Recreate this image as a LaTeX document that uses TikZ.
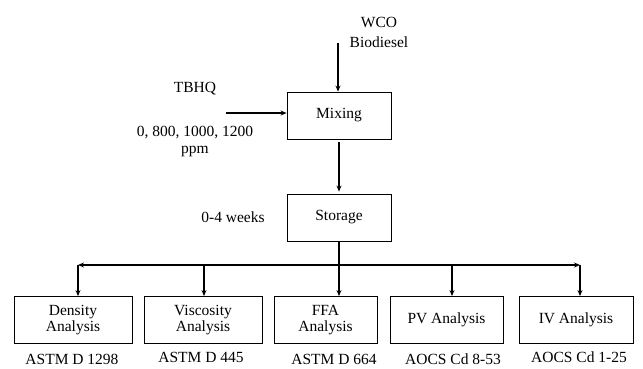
\documentclass[tikz,border=0pt]{standalone}
\usepackage{fontspec}
\setmainfont{Liberation Serif}
\usetikzlibrary{arrows.meta}
\begin{document}
\begin{tikzpicture}[x=1pt,y=-1pt,
  every node/.style={font=\fontsize{15.5}{17}\selectfont},
  box/.style={draw,line width=0.9pt,minimum height=47pt,inner sep=0pt,align=center},
  lbl/.style={inner sep=0pt,align=center},
  arr/.style={line width=1.2pt,-{Stealth[length=6pt,width=5pt]}},
  bus/.style={line width=1.2pt,{Stealth[length=6pt,width=5pt]}-{Stealth[length=6pt,width=5pt]}}]
\clip (0,0) rectangle (643,368);
\useasboundingbox (0,0) rectangle (643,368);
% boxes
\node[box,minimum width=104pt] (mix) at (339,115.5) {Mixing};
\node[box,minimum width=104pt] (sto) at (339,217.5) {Storage};
\node[box,minimum width=118pt] (den) at (73,320) {Density\\[-1pt]Analysis};
\node[box,minimum width=118pt] (vis) at (203,320) {Viscosity\\[-1pt]Analysis};
\node[box,minimum width=103pt] (ffa) at (325.5,320) {FFA\\[-1pt]Analysis};
\node[box,minimum width=113pt] (pv) at (446.5,320) {PV Analysis};
\node[box,minimum width=114pt] (iv) at (576,320) {IV Analysis};
% texts
\node[lbl] (wco) at (379,22) {WCO};
\node[lbl] (bio) at (379,42) {Biodiesel};
\node[lbl] (tbhq) at (195,89) {TBHQ};
\node[lbl] (conc) at (195,133) {0, 800, 1000, 1200};
\node[lbl] (ppm) at (195,151) {ppm};
\node[lbl] (wk) at (233,217) {0-4 weeks};
\node[lbl] (t1) at (72,359) {ASTM D 1298};
\node[lbl] (t2) at (201,357) {ASTM D 445};
\node[lbl] (t3) at (334,359) {ASTM D 664};
\node[lbl] (t4) at (453,359) {AOCS Cd 8-53};
\node[lbl] (t5) at (579,357) {AOCS Cd 1-25};
% connector coordinates
\coordinate (win) at (338,43);
\coordinate (tin) at (226,113);
\coordinate (b1) at (78,265);
\coordinate (b2) at (204,265);
\coordinate (b4) at (452,265);
\coordinate (b5) at (580,265);
% connectors
\draw[arr] (win) -- (win |- mix.north);
\draw[arr] (tin) -- (tin -| mix.west);
\draw[arr,shorten <=3pt,shorten >=2pt] (mix.south) -- (sto.north);
\draw[bus] (b1) -- (b5);
\draw[arr] (sto.south) -- (sto.south |- ffa.north);
\draw[arr] (b1) -- (b1 |- den.north);
\draw[arr] (b2) -- (b2 |- vis.north);
\draw[arr] (b4) -- (b4 |- pv.north);
\draw[arr] (b5) -- (b5 |- iv.north);
\end{tikzpicture}
\end{document}
